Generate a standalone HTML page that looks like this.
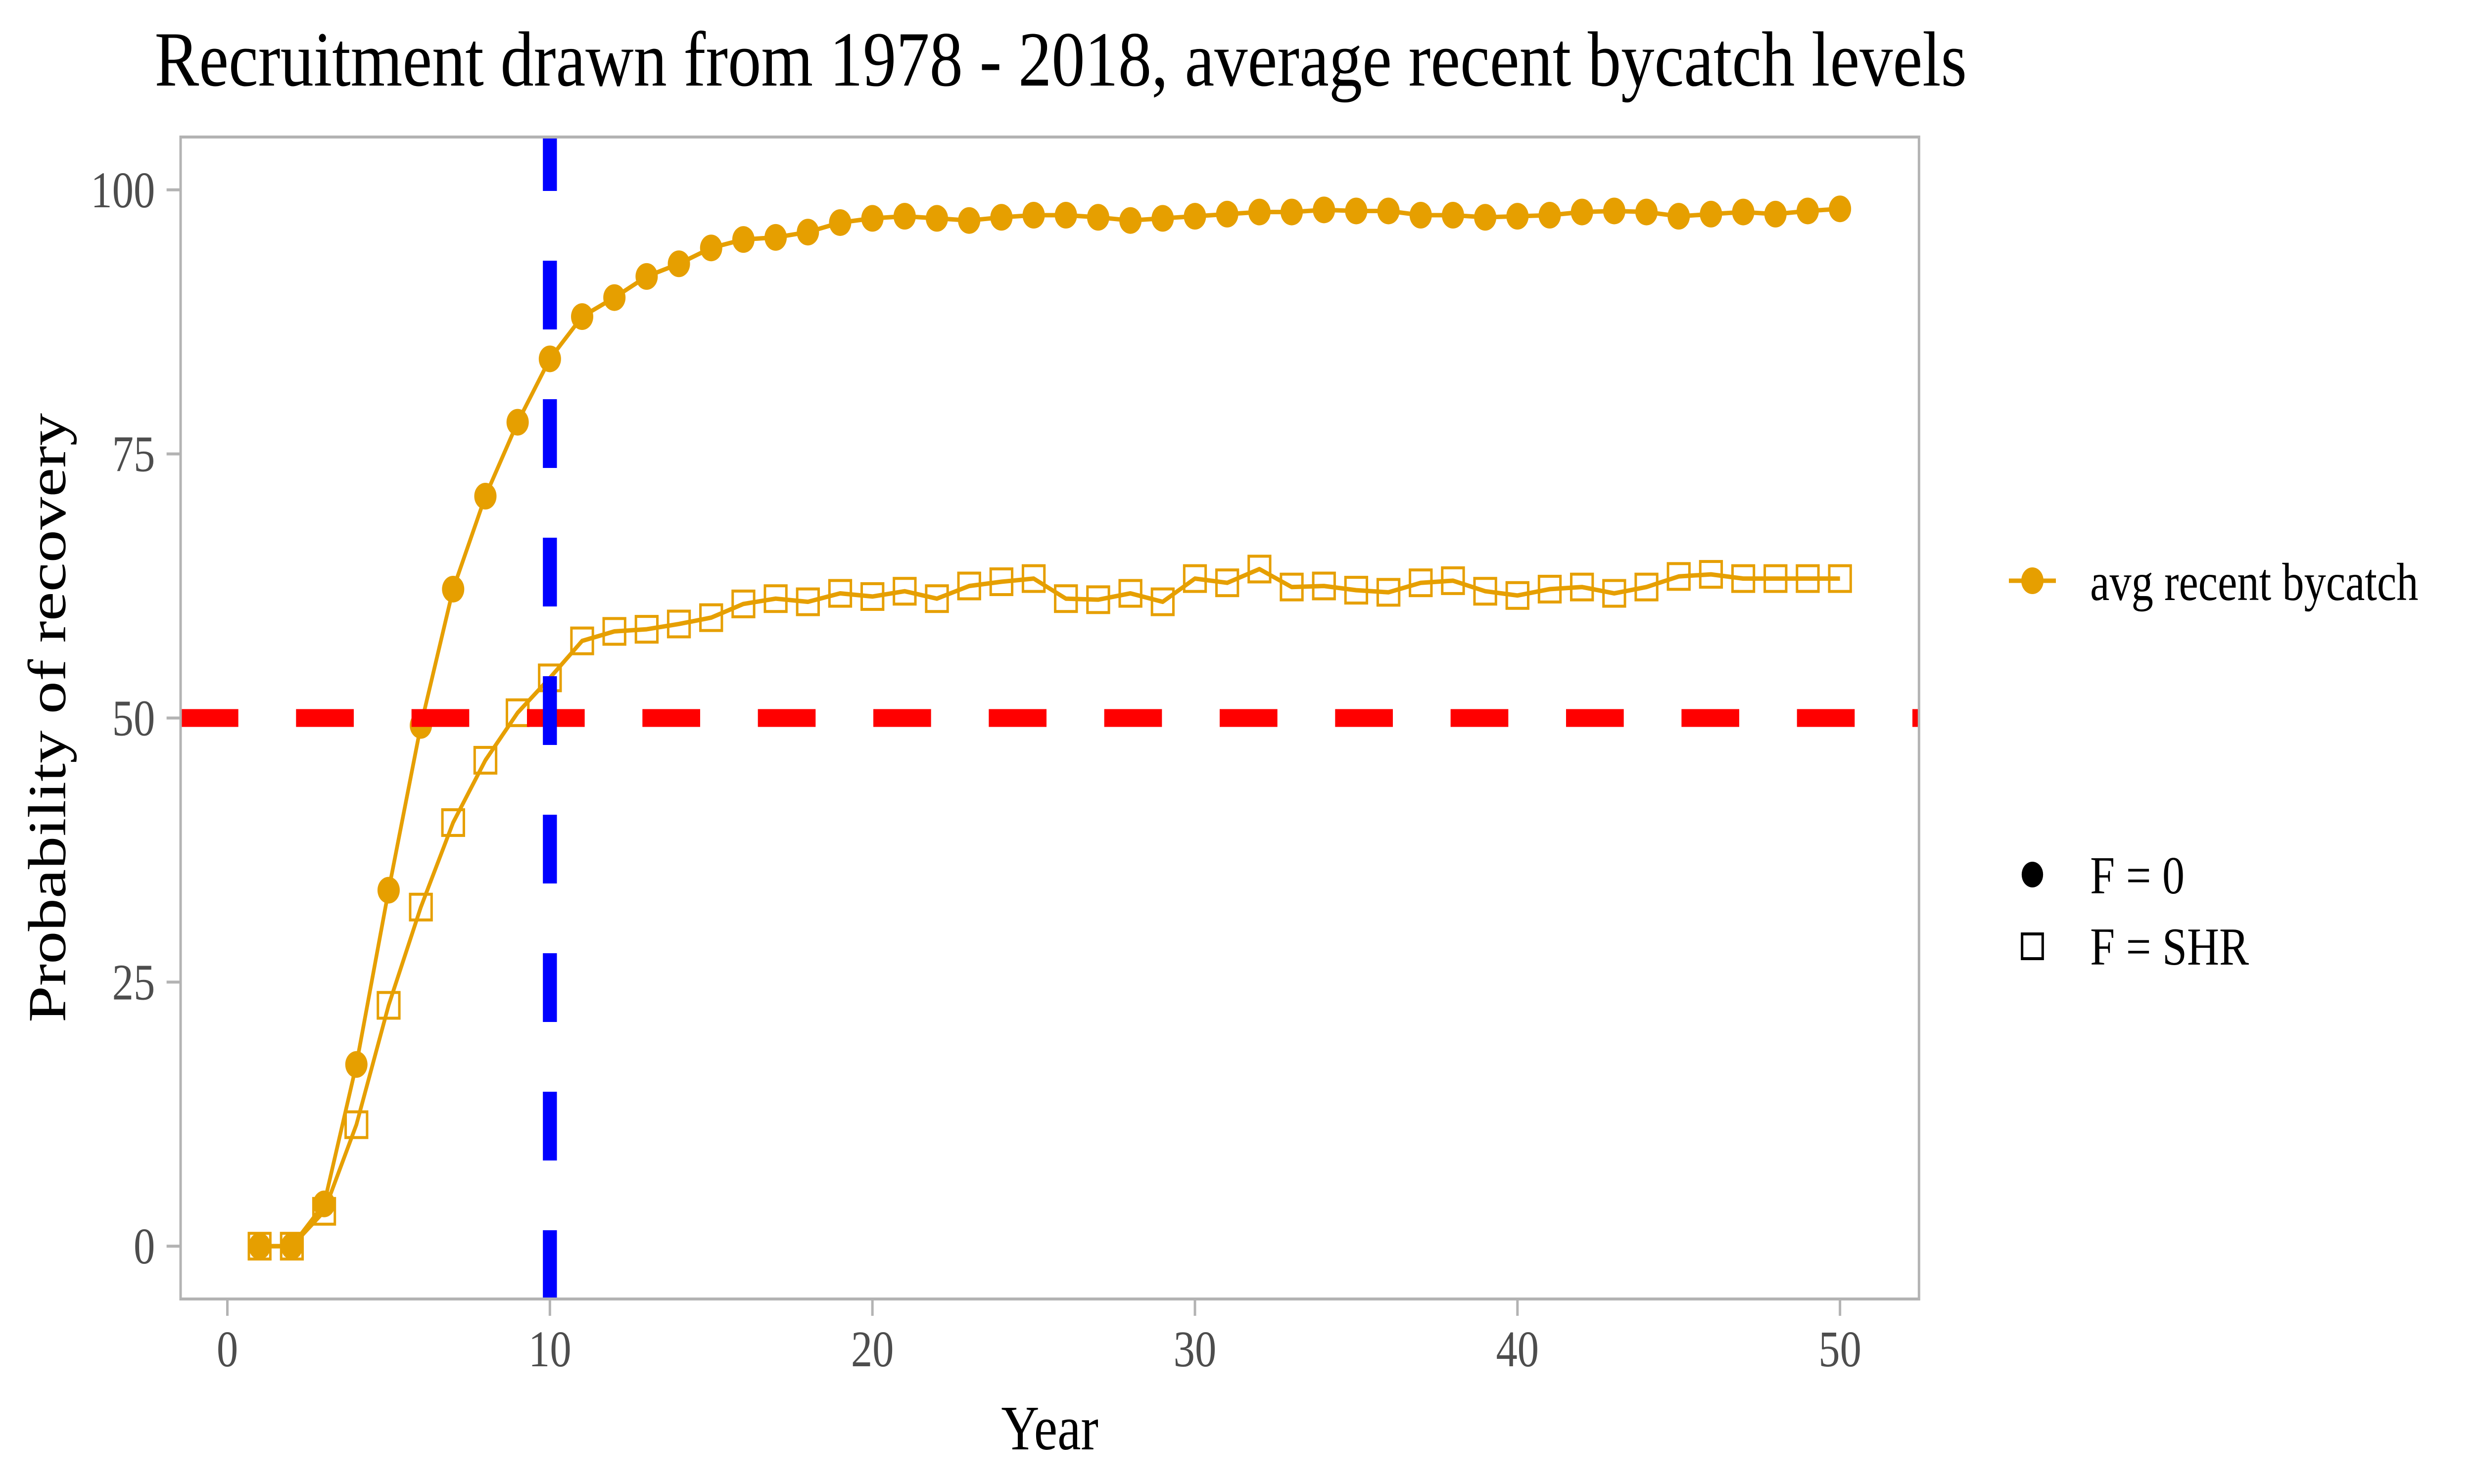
<!DOCTYPE html>
<html><head><meta charset="utf-8"><style>
html,body{margin:0;padding:0;background:#fff;overflow:hidden;width:100%;height:100%;}
svg{display:block;width:100vw;height:100vh;}
text{font-family:"Liberation Serif",serif;}
</style></head>
<body>
<svg id="chart" viewBox="0 0 6000 3000" preserveAspectRatio="none" xmlns="http://www.w3.org/2000/svg">
<rect x="0" y="0" width="6000" height="3000" fill="#fff"/>
<text x="375" y="173" font-size="158" fill="#000" textLength="4395" lengthAdjust="spacingAndGlyphs">Recruitment drawn from 1978 - 2018, average recent bycatch levels</text>
<g id="plot"></g>
<rect x="438" y="277" width="4216" height="2349" fill="none" stroke="#b3b3b3" stroke-width="6"/>
<g id="axes"></g>
<text x="2546" y="2930" font-size="128" text-anchor="middle" fill="#000">Year</text>
<text transform="translate(158,1451) rotate(-90)" font-size="130" text-anchor="middle" fill="#000" textLength="1232" lengthAdjust="spacingAndGlyphs">Probability of recovery</text>
<g>
<line x1="4872" y1="1174" x2="4986" y2="1174" stroke="#E69F00" stroke-width="9"/>
<circle cx="4929" cy="1174" r="27" fill="#E69F00"/>
<text x="5069" y="1213" font-size="108" fill="#000" textLength="796" lengthAdjust="spacingAndGlyphs">avg recent bycatch</text>
</g>
<g>
<circle cx="4929" cy="1768" r="26" fill="#000"/>
<text x="5069" y="1806" font-size="108" fill="#000">F = 0</text>
<rect x="4904" y="1888" width="50" height="50" fill="none" stroke="#000" stroke-width="6"/>
<text x="5069" y="1950" font-size="108" fill="#000">F = SHR</text>
</g>
</svg>
<script>
const years = [1,2,3,4,5,6,7,8,9,10,11,12,13,14,15,16,17,18,19,20,21,22,23,24,25,26,27,28,29,30,31,32,33,34,35,36,37,38,39,40,41,42,43,44,45,46,47,48,49,50];
const seriesF0 = [0,0,4,17.2,33.7,49.3,62.2,71,78,84,88,89.8,91.8,93,94.5,95.3,95.5,96,96.9,97.3,97.5,97.3,97.1,97.4,97.6,97.6,97.4,97.1,97.3,97.5,97.7,97.9,97.9,98.1,98,98,97.6,97.6,97.4,97.5,97.6,97.9,98,97.9,97.5,97.7,97.9,97.7,98,98.2];
const seriesSHR = [0,0,3.3,11.5,22.8,32.1,40.1,46,50.5,53.8,57.3,58.2,58.4,58.9,59.5,60.8,61.3,61,61.8,61.5,62,61.3,62.5,62.9,63.2,61.3,61.2,61.8,61,63.2,62.8,64.1,62.4,62.5,62.1,61.9,62.8,63,62,61.6,62.2,62.4,61.8,62.4,63.4,63.6,63.2,63.2,63.2,63.2];
const xTicks = [0,10,20,30,40,50];
const yTicks = [0,25,50,75,100];
const hLineValue = 50;
const vLineValue = 10;

const NS = "http://www.w3.org/2000/svg";
const PL = 438, PR = 4654, PT = 277, PB = 2626;
const xMin = -1.45, xMax = 52.45, yMin = -5, yMax = 105;
function xs(v){ return PL + (v - xMin) / (xMax - xMin) * (PR - PL); }
function ys(v){ return PB - (v - yMin) / (yMax - yMin) * (PB - PT); }
function mk(tag, attrs, parent){
  const el = document.createElementNS(NS, tag);
  for (const k in attrs) el.setAttribute(k, attrs[k]);
  parent.appendChild(el);
  return el;
}
const plot = document.getElementById('plot');
const axes = document.getElementById('axes');
const ORANGE = '#E69F00';

function drawSeries(vals, kind){
  const pts = years.map((y,i)=>xs(y).toFixed(1)+','+ys(vals[i]).toFixed(1)).join(' ');
  const line = mk('polyline', {points: pts, fill:'none', stroke:ORANGE, 'stroke-width':9, 'stroke-linejoin':'round'}, plot);
  
  
  years.forEach((y,i)=>{
    let m;
    if (kind === 'circle') {
      m = mk('circle', {cx:xs(y), cy:ys(vals[i]), r:27, fill:ORANGE}, plot);
      
    } else {
      m = mk('rect', {x:xs(y)-26, y:ys(vals[i])-26, width:52, height:52, fill:'none', stroke:ORANGE, 'stroke-width':6}, plot);
      
    }
    
  });
}
drawSeries(seriesSHR, 'square');
drawSeries(seriesF0, 'circle');

const hl = mk('line', {x1:PL, x2:PR, y1:ys(hLineValue), y2:ys(hLineValue), stroke:'#FF0000', 'stroke-width':36, 'stroke-dasharray':'140 140'}, plot);


const vl = mk('line', {x1:xs(vLineValue), x2:xs(vLineValue), y1:PB, y2:PT, stroke:'#0000FF', 'stroke-width':34, 'stroke-dasharray':'139 141'}, plot);



xTicks.forEach(t=>{
  const tk = mk('line', {x1:xs(t), x2:xs(t), y1:PB+3, y2:PB+34, stroke:'#b3b3b3', 'stroke-width':6}, axes);
  
  
  const lb = mk('text', {x:xs(t), y:2762, 'font-size':104, 'text-anchor':'middle', fill:'#4d4d4d'}, axes);
  lb.textContent = t;
  
  
});
yTicks.forEach(t=>{
  const tk = mk('line', {x1:PL-34, x2:PL-3, y1:ys(t), y2:ys(t), stroke:'#b3b3b3', 'stroke-width':6}, axes);
  
  
  const lb = mk('text', {x:376, y:ys(t)+35, 'font-size':104, 'text-anchor':'end', fill:'#4d4d4d'}, axes);
  lb.textContent = t;
  
  
});
</script>
</body></html>
